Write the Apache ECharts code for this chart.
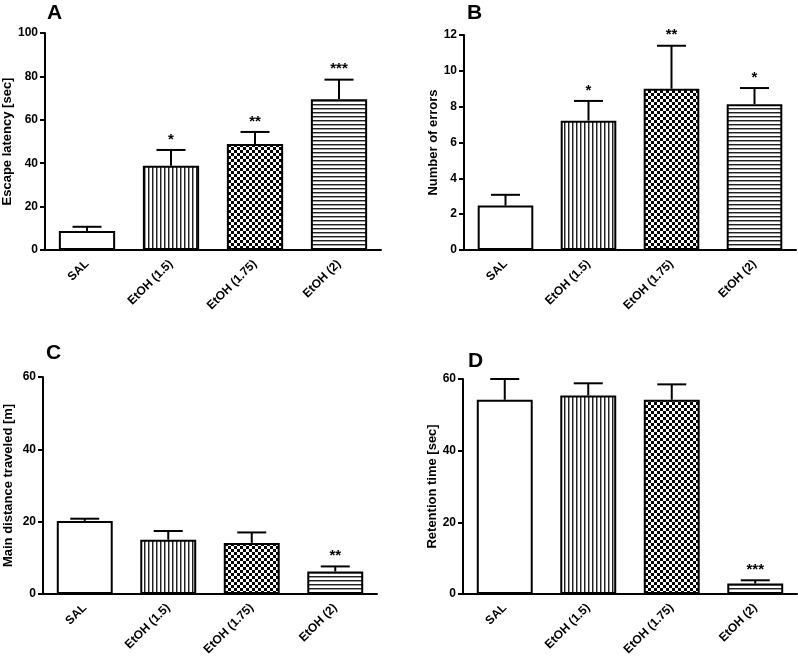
<!DOCTYPE html>
<html><head><meta charset="utf-8">
<script src="https://cdn.jsdelivr.net/npm/echarts@6/dist/echarts.min.js"></script>
<style>html,body{margin:0;padding:0;background:#fff}#c{width:798px;height:658px}</style>
</head><body><div id="c"></div>
<script>
const categories = ['SAL', 'EtOH (1.5)', 'EtOH (1.75)', 'EtOH (2)'];
const panelLetters = ['A', 'B', 'C', 'D'];
const axisTitles = ['Escape latency [sec]', 'Number of errors', 'Main distance traveled [m]', 'Retention time [sec]'];
const axisMax = [100, 12, 60, 60];
const axisInterval = [20, 2, 20, 20];
const meanA = [8.8, 38.8, 48.9, 69.5];
const errA  = [1.9, 7.3, 5.5, 9.0];
const starsA = ['', '*', '**', '***'];
const meanB = [2.48, 7.22, 9.0, 8.14];
const errB  = [0.6, 1.1, 2.4, 0.9];
const starsB = ['', '*', '**', '*'];
const meanC = [20.2, 15.0, 14.1, 6.2];
const errC  = [0.6, 2.4, 2.9, 1.4];
const starsC = ['', '', '', '**'];
const meanD = [54.2, 55.4, 54.2, 2.9];
const errD  = [5.8, 3.4, 4.3, 0.9];
const starsD = ['', '', '', '***'];

const means = [meanA, meanB, meanC, meanD];
const errs = [errA, errB, errC, errD];
const stars = [starsA, starsB, starsC, starsD];

function makePattern(type) {
  const c = document.createElement('canvas');
  const ctx = c.getContext('2d');
  if (type === 'v') {
    c.width = 4; c.height = 4;
    ctx.fillStyle = '#fff'; ctx.fillRect(0,0,4,4);
    ctx.fillStyle = '#222'; ctx.fillRect(0,0,1,4);
    ctx.fillStyle = '#999'; ctx.fillRect(1,0,1,4);
  } else if (type === 'h') {
    c.width = 4; c.height = 4;
    ctx.fillStyle = '#fff'; ctx.fillRect(0,0,4,4);
    ctx.fillStyle = '#222'; ctx.fillRect(0,0,4,1);
    ctx.fillStyle = '#999'; ctx.fillRect(0,1,4,1);
  } else if (type === 'c') {
    c.width = 6; c.height = 6;
    ctx.fillStyle = '#fff'; ctx.fillRect(0,0,6,6);
    ctx.fillStyle = '#000'; ctx.fillRect(0,0,3,3); ctx.fillRect(3,3,3,3);
  } else {
    c.width = 2; c.height = 2;
    ctx.fillStyle = '#fff'; ctx.fillRect(0,0,2,2);
  }
  return { image: c, repeat: 'repeat' };
}
const fills = [makePattern('w'), makePattern('v'), makePattern('c'), makePattern('h')];

const FONT = '"Liberation Sans", Arial, sans-serif';
const grids = [
  { left: 45, top: 33, width: 336, height: 217 },
  { left: 464, top: 35, width: 332, height: 215 },
  { left: 43, top: 377, width: 334, height: 217 },
  { left: 463, top: 379, width: 334, height: 215 }
];
const nameGaps = [28, 24, 28, 24];
const letterPos = [[47, 3], [467, 3], [46, 343], [468, 351]];

const option = {
  animation: false,
  backgroundColor: '#fff',
  grid: grids,
  title: panelLetters.map((t, i) => ({
    text: t, left: letterPos[i][0], top: letterPos[i][1], padding: 0,
    textStyle: { fontFamily: FONT, fontSize: 21, fontWeight: 'bold', color: '#000' }
  })),
  xAxis: grids.map((g, i) => ({
    type: 'category', gridIndex: i, data: categories,
    axisLine: { lineStyle: { color: '#000', width: 2 } },
    axisTick: { show: false },
    axisLabel: { rotate: 45, margin: 12, color: '#000', fontFamily: FONT, fontSize: 12, fontWeight: 'bold' }
  })),
  yAxis: grids.map((g, i) => ({
    type: 'value', gridIndex: i, min: 0, max: axisMax[i], interval: axisInterval[i],
    name: axisTitles[i], nameLocation: 'middle', nameGap: nameGaps[i],
    nameTextStyle: { fontFamily: FONT, fontSize: 13, fontWeight: 'bold', color: '#000' },
    axisLine: { show: true, lineStyle: { color: '#000', width: 2 } },
    axisTick: { show: true, length: 5, lineStyle: { color: '#000', width: 2 } },
    axisLabel: { margin: 7, color: '#000', fontFamily: FONT, fontSize: 12, fontWeight: 'bold' },
    splitLine: { show: false }
  })),
  series: []
};

for (let p = 0; p < 4; p++) {
  option.series.push({
    type: 'bar', xAxisIndex: p, yAxisIndex: p, barCategoryGap: '33%',
    data: means[p].map((v, k) => ({ value: v, itemStyle: { color: fills[k], borderColor: '#000', borderWidth: 2 } })),
    z: 2
  });
  const pm = means[p], pe = errs[p], ps = stars[p];
  option.series.push({
    type: 'custom', xAxisIndex: p, yAxisIndex: p, z: 3,
    data: pm.map((v, k) => [k, v, v + pe[k]]),
    renderItem: function (params, api) {
      const k = api.value(0);
      const base = api.coord([k, api.value(1)]);
      const top = api.coord([k, api.value(2)]);
      const capHalf = 14.5;
      const children = [
        { type: 'line', shape: { x1: base[0], y1: base[1], x2: top[0], y2: top[1] }, style: { stroke: '#000', lineWidth: 2 } },
        { type: 'line', shape: { x1: top[0] - capHalf, y1: top[1], x2: top[0] + capHalf, y2: top[1] }, style: { stroke: '#000', lineWidth: 2 } }
      ];
      if (ps[k]) {
        children.push({ type: 'text', x: top[0], y: top[1] - 3,
          style: { text: ps[k], fill: '#000', font: 'bold 15px ' + FONT, align: 'center', verticalAlign: 'bottom' } });
      }
      return { type: 'group', children: children };
    }
  });
}

const chart = echarts.init(document.getElementById('c'), null, { renderer: 'canvas' });
chart.setOption(option);
</script></body></html>
